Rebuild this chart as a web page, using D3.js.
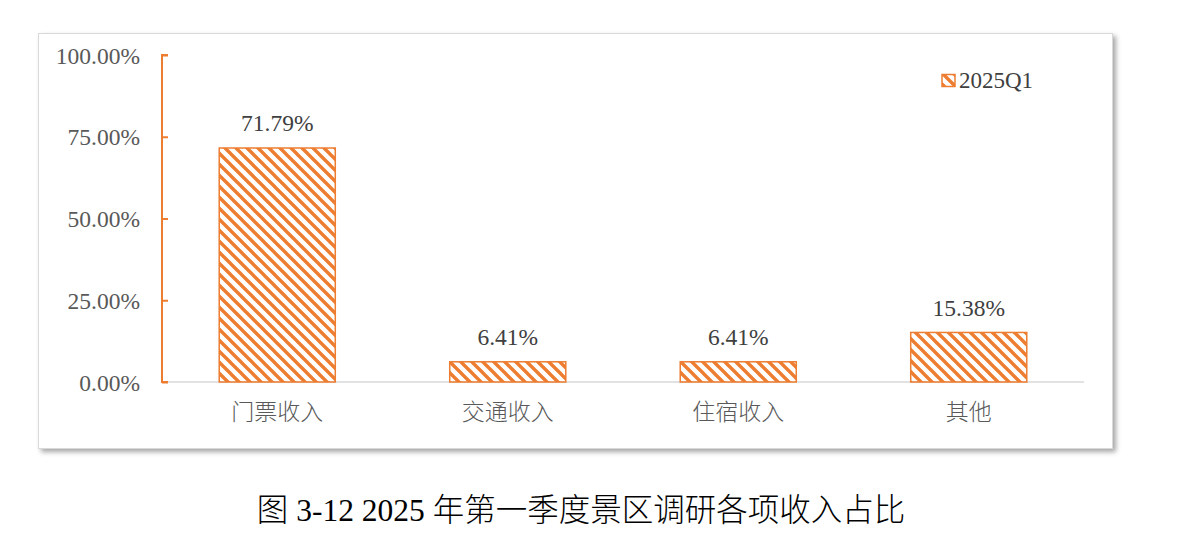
<!DOCTYPE html>
<html><head><meta charset="utf-8">
<script src="https://cdn.jsdelivr.net/npm/d3@7/dist/d3.min.js"></script>
<style>body{margin:0;background:#fff;} svg{display:block;}</style>
</head><body>
<svg id="c" width="1179" height="539"></svg>
<script>
const categories = ["门票收入","交通收入","住宿收入","其他"];
const values = [71.79, 6.41, 6.41, 15.38];
const yTicks = [0, 25, 50, 75, 100];
const seriesName = "2025Q1";
const title = "图 3-12 2025 年第一季度景区调研各项收入占比";

const svg = d3.select("#c");
const orange = "#ED7D31";
const serif = "'Times New Roman','Liberation Serif','Noto Sans CJK SC',serif";

const defs = svg.append("defs");
const f = defs.append("filter").attr("id","sh").attr("x","-5%").attr("y","-5%").attr("width","110%").attr("height","115%");
f.append("feDropShadow").attr("dx",3).attr("dy",3).attr("stdDeviation",2.5).attr("flood-color","#000").attr("flood-opacity",0.35);

const p = defs.append("pattern").attr("id","hatch").attr("patternUnits","userSpaceOnUse")
  .attr("width",11).attr("height",11);
p.append("path").attr("d","M0,0L11,11M-2,9L2,13M9,-2L13,2")
  .attr("stroke",orange).attr("stroke-width",3.4).attr("fill","none");

// frame
svg.append("rect").attr("x",38.5).attr("y",33.5).attr("width",1074).attr("height",415)
  .attr("fill","#fff").attr("stroke","#d9d9d9").attr("stroke-width",1).attr("filter","url(#sh)");

const x = d3.scaleBand().domain(categories).range([162,1084]).paddingInner(0.49).paddingOuter(0.245);
const y = d3.scaleLinear().domain([0,100]).range([382,55]);

// x axis line
svg.append("line").attr("x1",162).attr("x2",1084).attr("y1",y(0)).attr("y2",y(0))
  .attr("stroke","#d9d9d9").attr("stroke-width",1.5);

// y axis
const ya = svg.append("g").attr("transform","translate(162,0)")
  .call(d3.axisRight(y).tickValues(yTicks).tickSize(6).tickFormat(d=>d.toFixed(2)+"%"));
ya.select(".domain").attr("stroke",orange).attr("stroke-width",2).attr("d","M6,55H0V382H6");
ya.selectAll(".tick line").attr("stroke",orange).attr("stroke-width",2);
ya.selectAll(".tick text").attr("x",-22).attr("text-anchor","end").attr("dy","0.35em")
  .attr("fill","#595959").style("font-family",serif).style("font-size","23.5px");

// bars
svg.selectAll(".bar").data(values).join("rect")
  .attr("x",(d,i)=>x(categories[i])+0.75).attr("width",x.bandwidth()-1.5)
  .attr("y",d=>y(d)+0.75).attr("height",d=>y(0)-y(d)-0.75)
  .attr("fill","url(#hatch)").attr("stroke",orange).attr("stroke-width",1.5);

// data labels
svg.selectAll(".lbl").data(values).join("text")
  .attr("x",(d,i)=>x(categories[i])+x.bandwidth()/2).attr("y",d=>y(d)-16)
  .attr("text-anchor","middle").attr("fill","#404040")
  .style("font-family",serif).style("font-size","23.5px").text(d=>d.toFixed(2)+"%");

// category labels
svg.selectAll(".cat").data(categories).join("text")
  .attr("x",d=>x(d)+x.bandwidth()/2).attr("y",420)
  .attr("text-anchor","middle").attr("fill","#595959")
  .style("font-family",serif).style("font-size","23px").style("font-weight","300").text(d=>d);

// legend
svg.append("rect").attr("x",942).attr("y",74.5).attr("width",13).attr("height",12)
  .attr("fill","url(#hatch)").attr("stroke",orange).attr("stroke-width",1.5);
svg.append("text").attr("x",959).attr("y",88).attr("fill","#404040")
  .style("font-family",serif).style("font-size","23px").text(seriesName);

// title
svg.append("text").attr("x",581).attr("y",521).attr("text-anchor","middle").attr("fill","#000")
  .style("font-family",serif).style("font-size","31.5px").style("font-weight","300").text(title);
</script>
</body></html>
